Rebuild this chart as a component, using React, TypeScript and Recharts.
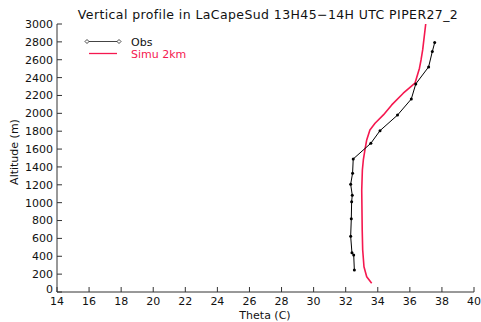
import React from 'react';
import { LineChart, Line, XAxis, YAxis } from 'recharts';

const obsTheta = [32.54, 32.5, 32.39, 32.31, 32.35, 32.37, 32.41, 32.31, 32.43, 32.47, 33.57, 34.14, 35.23, 36.09, 36.37, 37.17, 37.4, 37.55];
const obsAlt = [246, 414, 440, 624, 821, 1011, 1083, 1206, 1330, 1489, 1665, 1806, 1980, 2160, 2329, 2520, 2691, 2792];

const simuTheta = [33.62, 33.31, 33.14, 33.06, 33.03, 33.0, 33.04, 33.1, 33.2, 33.31, 33.51, 33.83, 34.35, 34.87, 35.59, 36.32, 36.6, 36.7, 36.8, 36.99];
const simuAlt = [97, 171, 283, 470, 694, 1142, 1366, 1478, 1590, 1702, 1814, 1889, 1982, 2094, 2225, 2337, 2505, 2600, 2710, 3000];

const xTicks = [14, 16, 18, 20, 22, 24, 26, 28, 30, 32, 34, 36, 38, 40];
const yTicks = [0, 200, 400, 600, 800, 1000, 1200, 1400, 1600, 1800, 2000, 2200, 2400, 2600, 2800, 3000];

const title = 'Vertical profile in LaCapeSud 13H45\u221214H UTC PIPER27_2';
const xLabel = 'Theta (C)';
const yLabel = 'Altitude (m)';
const obsName = 'Obs';
const simuName = 'Simu 2km';

const obsData = obsTheta.map((t, i) => ({ theta: t, alt: obsAlt[i] }));
const simuData = simuTheta.map((t, i) => ({ theta: t, alt: simuAlt[i] }));

const RED = '#f5184f';
const FONT = 'DejaVu Sans';
const AXIS = '#333';
const TXT = '#111';

const ObsDot = (props: any) => {
  const { cx, cy } = props;
  if (cx == null || cy == null) return null;
  return <circle cx={cx} cy={cy} r={1.5} fill="#000" stroke="none" />;
};

const YTick = (props: any) => {
  const { x, y, payload } = props;
  const shift = payload.value === 0 ? -3 : 0;
  return (
    <text x={x} y={y + shift} dy="0.355em" textAnchor="end" fontFamily={FONT} fontSize={11} fill={TXT}>
      {payload.value}
    </text>
  );
};

export default function App() {
  const W = 481;
  const H = 322;
  const tickStyle = { fontFamily: FONT, fontSize: 11, fill: TXT };
  return (
    <div style={{ position: 'absolute', left: 0, top: 0, width: W, height: H, background: '#fff' }}>
      <LineChart width={W} height={H} data={simuData} margin={{ top: 24, right: 7, bottom: 8, left: 0 }}>
        <XAxis
          xAxisId="b"
          dataKey="theta"
          type="number"
          domain={[14, 40]}
          ticks={xTicks}
          interval={0}
          allowDataOverflow
          height={22}
          tickSize={-5}
          tickMargin={10}
          stroke={AXIS}
          tick={tickStyle}
        />
        <XAxis
          xAxisId="t"
          orientation="top"
          dataKey="theta"
          type="number"
          domain={[14, 40]}
          ticks={xTicks}
          interval={0}
          allowDataOverflow
          height={0}
          tickSize={-5}
          tickFormatter={() => ''}
          stroke={AXIS}
        />
        <YAxis
          yAxisId="l"
          dataKey="alt"
          type="number"
          domain={[0, 3000]}
          ticks={yTicks}
          interval={0}
          allowDataOverflow
          width={57}
          tickSize={-5}
          tickMargin={9}
          stroke={AXIS}
          tick={<YTick />}
        />
        <YAxis
          yAxisId="r"
          orientation="right"
          dataKey="alt"
          type="number"
          domain={[0, 3000]}
          ticks={yTicks}
          interval={0}
          allowDataOverflow
          width={0}
          tickSize={-5}
          tickFormatter={() => ''}
          stroke={AXIS}
        />
        <Line
          xAxisId="b"
          yAxisId="l"
          data={simuData}
          dataKey="alt"
          type="linear"
          stroke={RED}
          strokeWidth={1.6}
          strokeLinejoin="round"
          dot={false}
          isAnimationActive={false}
        />
        <Line
          xAxisId="b"
          yAxisId="l"
          data={obsData}
          dataKey="alt"
          type="linear"
          stroke="#000"
          strokeWidth={1}
          dot={<ObsDot />}
          activeDot={false}
          isAnimationActive={false}
        />
      </LineChart>
      <svg width={W} height={H} style={{ position: 'absolute', left: 0, top: 0, pointerEvents: 'none' }}>
        <text x={268} y={19} textAnchor="middle" fontFamily={FONT} fontSize={12.5} letterSpacing={0.4} fill={TXT}>{title}</text>
        <text x={265} y={318.5} textAnchor="middle" fontFamily={FONT} fontSize={11} fill={TXT}>{xLabel}</text>
        <text x={0} y={0} transform="translate(18,152) rotate(-90)" textAnchor="middle" fontFamily={FONT} fontSize={11} fill={TXT}>{yLabel}</text>
        <line x1={87} y1={41.5} x2={119} y2={41.5} stroke="#444" strokeWidth={1} />
        <path d="M87 39.5 L89 41.5 L87 43.5 L85 41.5 Z" fill="#fff" stroke="#333" strokeWidth={0.9} />
        <path d="M119 39.5 L121 41.5 L119 43.5 L117 41.5 Z" fill="#fff" stroke="#333" strokeWidth={0.9} />
        <text x={131} y={45.5} fontFamily={FONT} fontSize={11} fill={TXT}>{obsName}</text>
        <line x1={89} y1={53.5} x2={117} y2={53.5} stroke={RED} strokeWidth={1.3} />
        <text x={131} y={57.5} fontFamily={FONT} fontSize={11} fill={RED}>{simuName}</text>
      </svg>
    </div>
  );
}
